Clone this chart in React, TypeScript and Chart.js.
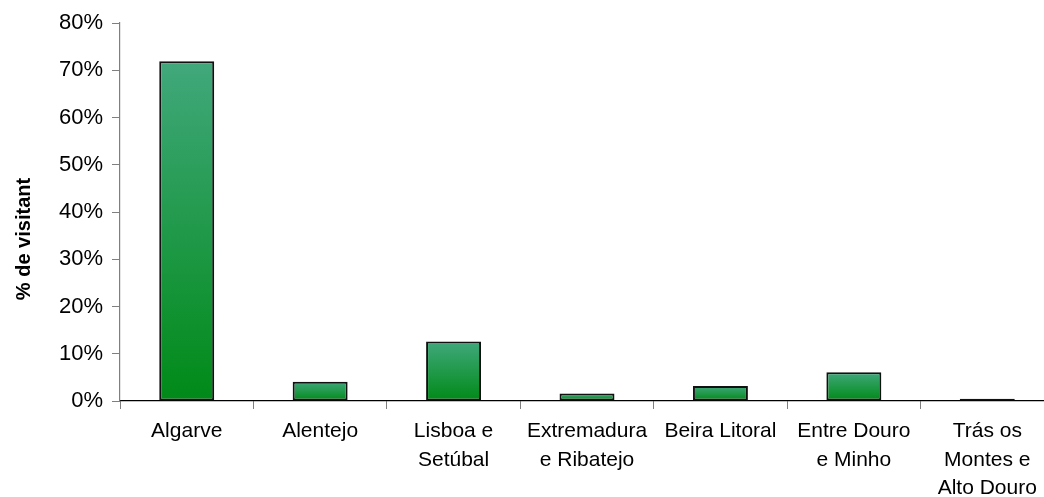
import React, { useEffect, useRef } from "react";
import { Chart, registerables, Plugin } from "chart.js";

Chart.register(...registerables);

// Regions of Portugal and the share of visitors to each (%)
const regions: (string | string[])[] = [
  "Algarve",
  "Alentejo",
  ["Lisboa e", "Setúbal"],
  ["Extremadura", "e Ribatejo"],
  "Beira Litoral",
  ["Entre Douro", "e Minho"],
  ["Trás os", "Montes e", "Alto Douro"],
];
const visitorShare: number[] = [71.9, 4.1, 12.6, 1.6, 3.2, 6.1, 0.5];

const yTicks: number[] = [0, 10, 20, 30, 40, 50, 60, 70, 80];
const yTitle = "% de visitant";

const FONT = "'Liberation Sans', Arial, Helvetica, sans-serif";
const GREEN_TOP = "#41a87c";
const GREEN_BOTTOM = "#008a17";

// Rotated, bold axis title painted beside the value axis
const yTitlePlugin: Plugin<"bar"> = {
  id: "yTitle",
  afterDraw(chart) {
    const { ctx, chartArea } = chart;
    const cy = (chartArea.top + chartArea.bottom) / 2 + 27;
    ctx.save();
    ctx.translate(24, cy);
    ctx.rotate(-Math.PI / 2);
    ctx.font = `bold 20px ${FONT}`;
    ctx.fillStyle = "#000";
    ctx.textAlign = "center";
    ctx.textBaseline = "middle";
    ctx.fillText(yTitle, 0, 0);
    ctx.restore();
  },
};

export default function App() {
  const canvasRef = useRef<HTMLCanvasElement | null>(null);

  useEffect(() => {
    const canvas = canvasRef.current;
    if (!canvas) return;

    const chart = new Chart(canvas, {
      type: "bar",
      data: {
        labels: regions,
        datasets: [
          {
            data: visitorShare,
            backgroundColor: (c: any) => {
              const ch = c.chart;
              if (!ch.chartArea || c.type !== "data") return GREEN_BOTTOM;
              const y = ch.scales.y;
              const top = y.getPixelForValue(c.raw as number);
              const bottom = y.getPixelForValue(0);
              if (bottom - top < 3) return "#111";
              const g = ch.ctx.createLinearGradient(0, top, 0, bottom);
              g.addColorStop(0, GREEN_TOP);
              g.addColorStop(1, GREEN_BOTTOM);
              return g;
            },
            borderColor: "#111",
            borderWidth: 2,
            borderSkipped: false,
            categoryPercentage: 1,
            barPercentage: 0.412,
          },
        ],
      },
      options: {
        animation: false,
        responsive: false,
        devicePixelRatio: 1,
        layout: { padding: { top: 23, right: 6, left: 0, bottom: 0 } },
        plugins: {
          legend: { display: false },
          tooltip: { enabled: false },
          title: { display: false },
        },
        scales: {
          x: {
            grid: {
              display: true,
              offset: true,
              drawOnChartArea: false,
              drawTicks: true,
              tickLength: 8,
              color: "#7f7f7f",
            },
            border: { display: true, color: "#000", width: 1.2 },
            ticks: {
              color: "#000",
              font: { family: FONT, size: 21, lineHeight: 1.36 },
              padding: 8,
              maxRotation: 0,
              minRotation: 0,
              autoSkip: false,
            },
            afterFit: (scale: any) => {
              scale.height = 96;
            },
          },
          y: {
            min: 0,
            max: 80,
            afterBuildTicks: (scale: any) => {
              scale.ticks = yTicks.map((v) => ({ value: v }));
            },
            grid: {
              display: true,
              drawOnChartArea: false,
              drawTicks: true,
              tickLength: 8,
              color: "#7f7f7f",
            },
            border: { display: true, color: "#7f7f7f", width: 1.2 },
            ticks: {
              color: "#000",
              font: { family: FONT, size: 22 },
              padding: 9,
              callback: (v: any) => `${v}%`,
            },
            afterFit: (scale: any) => {
              scale.width = 120;
            },
          },
        },
      },
      plugins: [yTitlePlugin],
    });

    return () => chart.destroy();
  }, []);

  return (
    <div
      style={{
        position: "fixed",
        left: 0,
        top: 0,
        width: 1044,
        height: 497,
        overflow: "hidden",
        background: "#fff",
      }}
    >
      <canvas
        ref={canvasRef}
        width={1060}
        height={497}
        style={{ position: "absolute", left: 0, top: 0 }}
      />
    </div>
  );
}
